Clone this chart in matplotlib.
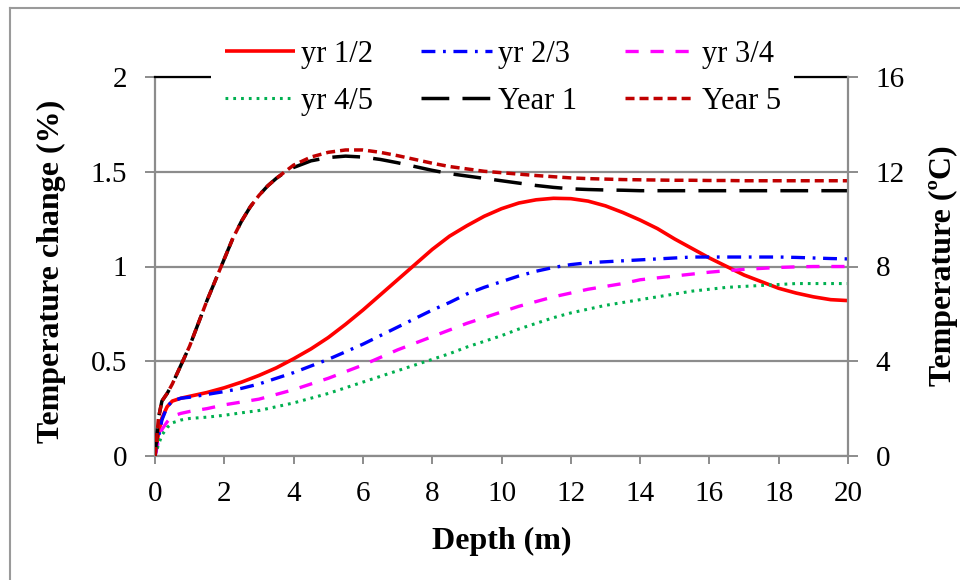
import matplotlib
matplotlib.use('Agg')
import matplotlib.pyplot as plt
from matplotlib.lines import Line2D

# ---------------- data ----------------
depth = [0, 0.1, 0.2, 0.35, 0.5, 0.75, 1,
         1.5, 2, 2.5, 3, 3.5, 4, 4.5, 5, 5.5, 6,
         6.5, 7, 7.5, 8, 8.5, 9, 9.5, 10, 10.5, 11,
         11.5, 12, 12.5, 13, 13.5, 14, 14.5, 15, 15.5, 16,
         16.5, 17, 17.5, 18, 18.5, 19, 19.5, 20]

# temperature change (%), left axis
yr_1_2 = [0, 0.12, 0.2, 0.26, 0.29, 0.305, 0.315,
          0.335, 0.36, 0.39, 0.425, 0.465, 0.513, 0.565, 0.625, 0.695, 0.77,
          0.85, 0.93, 1.01, 1.09, 1.16, 1.215, 1.265, 1.305, 1.335, 1.352,
          1.36, 1.358, 1.345, 1.32, 1.285, 1.245, 1.20, 1.145, 1.095, 1.045,
          1.0, 0.955, 0.92, 0.885, 0.86, 0.84, 0.825, 0.82]
yr_2_3 = [0, 0.1, 0.19, 0.26, 0.29, 0.305, 0.31,
          0.325, 0.34, 0.357, 0.38, 0.41, 0.44, 0.475, 0.51, 0.55, 0.59,
          0.635, 0.68, 0.725, 0.77, 0.81, 0.855, 0.89, 0.92, 0.95, 0.975,
          0.995, 1.01, 1.02, 1.025, 1.03, 1.035, 1.04, 1.045, 1.05, 1.05,
          1.05, 1.05, 1.05, 1.05, 1.048, 1.045, 1.042, 1.04]
yr_3_4 = [0, 0.08, 0.14, 0.18, 0.21, 0.225, 0.235,
          0.25, 0.27, 0.285, 0.30, 0.325, 0.35, 0.38, 0.41, 0.445, 0.48,
          0.52, 0.56, 0.595, 0.63, 0.665, 0.70, 0.73, 0.76, 0.79, 0.815,
          0.84, 0.86, 0.88, 0.895, 0.91, 0.93, 0.94, 0.95, 0.96, 0.97,
          0.978, 0.985, 0.99, 0.995, 0.998, 1.0, 1.0, 1.0]
yr_4_5 = [0, 0.06, 0.11, 0.15, 0.175, 0.19, 0.198,
          0.205, 0.215, 0.228, 0.24, 0.26, 0.28, 0.305, 0.33, 0.36, 0.39,
          0.42, 0.45, 0.48, 0.51, 0.54, 0.575, 0.605, 0.635, 0.67, 0.70,
          0.73, 0.755, 0.775, 0.795, 0.81, 0.825, 0.84, 0.855, 0.87, 0.88,
          0.89, 0.895, 0.90, 0.905, 0.91, 0.91, 0.91, 0.91]

# temperature (degC), right axis
depth_t = [0, 0.1, 0.2, 0.35, 0.5, 0.75, 1, 1.25, 1.5, 1.75,
           2, 2.25, 2.5, 2.75, 3, 3.25, 3.5, 3.75, 4, 4.5, 5, 5.5, 6,
           6.5, 7, 7.5, 8, 8.5, 9, 9.5, 10, 10.5, 11,
           11.5, 12, 12.5, 13, 13.5, 14, 14.5, 15, 15.5, 16,
           16.5, 17, 17.5, 18, 18.5, 19, 19.5, 20]
year_1 = [0, 1.6, 2.32, 2.64, 3.04, 3.84, 4.64, 5.6, 6.56, 7.44,
          8.32, 9.2, 9.92, 10.52, 11.0, 11.4, 11.72, 11.98, 12.18, 12.46, 12.6, 12.66, 12.62,
          12.52, 12.38, 12.22, 12.06, 11.92, 11.82, 11.72, 11.62, 11.52, 11.42,
          11.34, 11.28, 11.25, 11.23, 11.22, 11.2, 11.2, 11.2, 11.2, 11.2,
          11.2, 11.2, 11.2, 11.2, 11.2, 11.2, 11.2, 11.2]
year_5 = [0, 1.6, 2.32, 2.64, 3.04, 3.84, 4.64, 5.6, 6.56, 7.44,
          8.32, 9.2, 9.92, 10.52, 11.0, 11.4, 11.72, 12.0, 12.28, 12.62, 12.82, 12.92, 12.92,
          12.82, 12.68, 12.52, 12.36, 12.22, 12.12, 12.02, 11.96, 11.9, 11.84,
          11.79, 11.74, 11.71, 11.69, 11.67, 11.66, 11.65, 11.64, 11.64, 11.63,
          11.63, 11.62, 11.62, 11.62, 11.62, 11.62, 11.62, 11.62]

x_ticks = [0, 2, 4, 6, 8, 10, 12, 14, 16, 18, 20]
y_left_ticks = [0, 0.5, 1, 1.5, 2]
y_left_labels = ['0', '0.5', '1', '1.5', '2']
y_right_ticks = [0, 4, 8, 12, 16]
y_right_labels = ['0', '4', '8', '12', '16']

labels = ['yr 1/2', 'yr 2/3', 'yr 3/4', 'yr 4/5', 'Year 1', 'Year 5']

# ---------------- style ----------------
plt.rcParams['font.family'] = ['Liberation Serif', 'DejaVu Serif']
plt.rcParams['lines.scale_dashes'] = False

W, H = 960, 580
GRAY = '#8c8c8c'
TICK_FS = 21
LAB_FS = 23

fig = plt.figure(figsize=(W / 100, H / 100), dpi=100)
ax = fig.add_axes([155 / W, (H - 456) / H, (848 - 155) / W, (456 - 77) / H])
ax2 = ax.twinx()

l1, = ax.plot(depth, yr_1_2, color='#ff0000', lw=2.6, solid_capstyle='butt')
l2, = ax.plot(depth, yr_2_3, color='#0000ff', lw=2.4, dashes=(10, 5.5, 2, 5.5))
l3, = ax.plot(depth, yr_3_4, color='#ff00ff', lw=2.4, dashes=(9.5, 8.5))
l4, = ax.plot(depth, yr_4_5, color='#00b050', lw=2.2, dashes=(2, 3.6))
l5, = ax2.plot(depth_t, year_1, color='#000000', lw=2.5, dashes=(20, 9.5))
l6, = ax2.plot(depth_t, year_5, color='#c00000', lw=2.5, dashes=(6.5, 3.6))

ax.set_xlim(0, 20)
ax.set_ylim(0, 2)
ax2.set_ylim(0, 16)
ax.set_xticks(x_ticks)
ax.set_xticklabels([str(v) for v in x_ticks])
ax.set_yticks(y_left_ticks)
ax.set_yticklabels(y_left_labels)
ax2.set_yticks(y_right_ticks)
ax2.set_yticklabels(y_right_labels)

ax.grid(axis='y', color=GRAY, lw=1.6)
ax.grid(axis='x', visible=False)

for s in ['left', 'bottom']:
    ax.spines[s].set_color(GRAY)
    ax.spines[s].set_linewidth(1.6)
ax.spines['right'].set_visible(False)
ax.spines['top'].set_color('black')
ax.spines['top'].set_linewidth(1.6)
for s in ['left', 'bottom', 'top']:
    ax2.spines[s].set_visible(False)
ax2.spines['right'].set_color(GRAY)
ax2.spines['right'].set_linewidth(1.6)

ax.tick_params(axis='x', direction='out', length=6, width=1.4, color=GRAY,
               labelsize=TICK_FS, pad=12)
ax.tick_params(axis='y', direction='out', length=7, width=1.4, color=GRAY,
               labelsize=TICK_FS, pad=13)
ax2.tick_params(axis='y', direction='out', length=7, width=1.4, color=GRAY,
                labelsize=TICK_FS, pad=13)

ax.set_xlabel('Depth (m)', fontsize=LAB_FS, fontweight='bold', labelpad=14)
fig.text(51 / W, 1 - 271 / H, 'Temperature change (%)', rotation=90,
         ha='center', va='center', fontsize=LAB_FS, fontweight='bold')
fig.text(943 / W, 1 - 266 / H, 'Temperature (ºC)', rotation=90,
         ha='center', va='center', fontsize=LAB_FS, fontweight='bold')

handles = [l1, l4, l2, l5, l3, l6]
leg_labels = [labels[0], labels[3], labels[1], labels[4], labels[2], labels[5]]
leg = fig.legend(handles, leg_labels, ncol=3, loc='upper left',
                 bbox_to_anchor=(211 / W, 1 - 26 / H), borderaxespad=0,
                 borderpad=0.45, fontsize=22, frameon=True, fancybox=False,
                 handlelength=2.3, handletextpad=0.2, columnspacing=1.58,
                 labelspacing=0.6)
leg.get_frame().set_facecolor('white')
leg.get_frame().set_edgecolor('none')
leg.get_frame().set_alpha(1)
leg.set_zorder(10)

# outer frame of the picture
fig.add_artist(Line2D([10 / W, 10 / W], [0, 1 - 8 / H], transform=fig.transFigure,
                      color='#9a9a9a', lw=1.5))
fig.add_artist(Line2D([10 / W, 1], [1 - 8 / H, 1 - 8 / H], transform=fig.transFigure,
                      color='#9a9a9a', lw=1.5))

fig.savefig('out.png', dpi=100)
